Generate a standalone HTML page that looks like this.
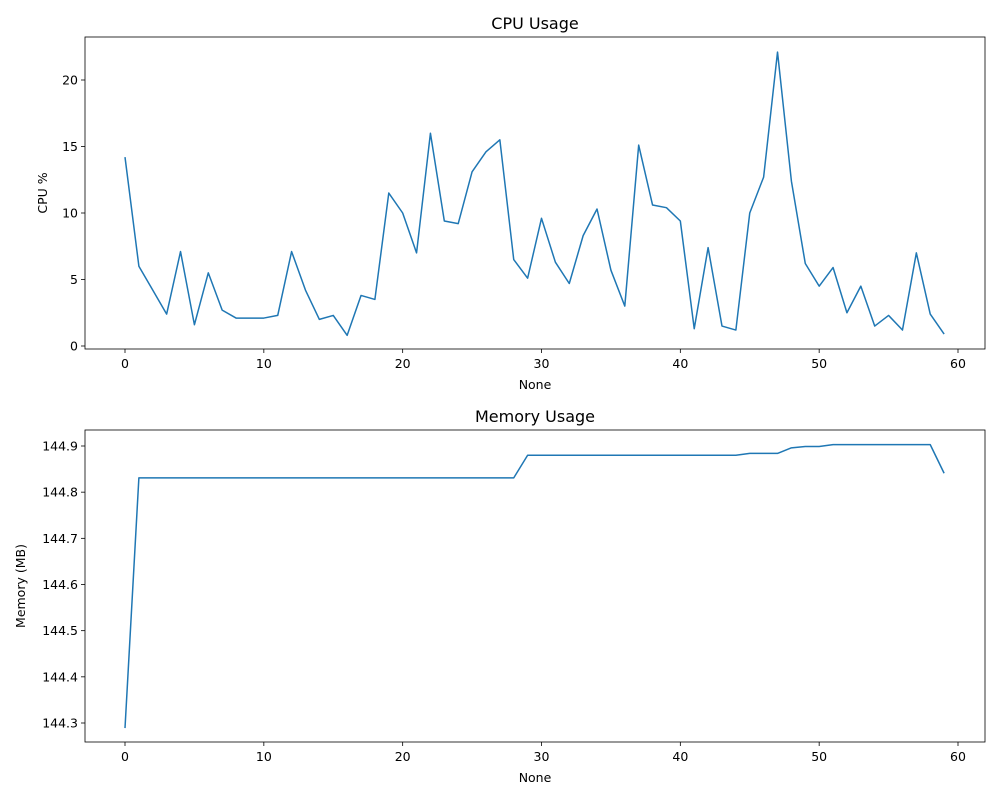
<!DOCTYPE html>
<html><head><meta charset="utf-8"><style>
body{margin:0;background:#fff;font-family:"Liberation Sans","DejaVu Sans",sans-serif}
svg text{font-family:"DejaVu Sans","Liberation Sans",sans-serif;fill:#000}
</style></head><body>
<svg id="c" width="1000" height="800"></svg>
<script>
const cpuValues=[14.2,6.0,4.2,2.4,7.1,1.6,5.5,2.7,2.1,2.1,2.1,2.3,7.1,4.2,2.0,2.3,0.8,3.8,3.5,11.5,10.0,7.0,16.0,9.4,9.2,13.1,14.6,15.5,6.5,5.1,9.6,6.3,4.7,8.3,10.3,5.7,3.0,15.1,10.6,10.4,9.4,1.3,7.4,1.5,1.2,10.0,12.7,22.1,12.4,6.2,4.5,5.9,2.5,4.5,1.5,2.3,1.2,7.0,2.4,0.9];
const memValues=[144.289,144.831,144.831,144.831,144.831,144.831,144.831,144.831,144.831,144.831,144.831,144.831,144.831,144.831,144.831,144.831,144.831,144.831,144.831,144.831,144.831,144.831,144.831,144.831,144.831,144.831,144.831,144.831,144.831,144.880,144.880,144.880,144.880,144.880,144.880,144.880,144.880,144.880,144.880,144.880,144.880,144.880,144.880,144.880,144.880,144.884,144.884,144.884,144.896,144.899,144.899,144.903,144.903,144.903,144.903,144.903,144.903,144.903,144.903,144.841];
const xTicks=[0,10,20,30,40,50,60];
const cpuTicks=[0,5,10,15,20];
const memTicks=[144.3,144.4,144.5,144.6,144.7,144.8,144.9];
const NS="http://www.w3.org/2000/svg";
const svg=document.getElementById('c');
function mk(t,a,p){const e=document.createElementNS(NS,t);for(const k in a)e.setAttribute(k,a[k]);(p||svg).appendChild(e);return e;}
function xs(v){return 125+(v-0)*(958-125)/60;}
function panel(name,title,ylabel,vals,yt,top,y0v,y0p,y1v,y1p,ylx){
  const g=mk('g',{});
  
  
  const ys=v=>y0p+(v-y0v)*(y1p-y0p)/(y1v-y0v);
  const bottom=top+312;
  const t=mk('text',{x:535,y:top-8,'font-size':16,'text-anchor':'middle'},g);t.textContent=title;
  
  xTicks.forEach(v=>{const x=xs(v);mk('line',{x1:x,x2:x,y1:bottom,y2:bottom+4,stroke:'#000','stroke-width':0.8},g);
    const l=mk('text',{x:x,y:bottom+19,'font-size':12.5,'text-anchor':'middle'},g);l.textContent=v;
    });
  yt.forEach(v=>{const y=ys(v);mk('line',{x1:81,x2:85,y1:y,y2:y,stroke:'#000','stroke-width':0.8},g);
    const l=mk('text',{x:78,y:y+4.5,'font-size':12.5,'text-anchor':'end'},g);l.textContent=(v%1? v.toFixed(1):v);
    });
  const xl=mk('text',{x:535,y:bottom+40,'font-size':12.5,'text-anchor':'middle'},g);xl.textContent='None';
  
  const yl=mk('text',{x:ylx,y:top+156,'font-size':12.5,'text-anchor':'middle',transform:`rotate(-90 ${ylx} ${top+156})`},g);yl.textContent=ylabel;
  
  const pts=vals.map((v,i)=>xs(i).toFixed(2)+','+ys(v).toFixed(2)).join(' ');
  const pl=mk('polyline',{points:pts,fill:'none',stroke:'#1f77b4','stroke-width':1.5,'stroke-linejoin':'round'},g);
  
  const r=mk('rect',{x:85,y:top,width:900,height:312,fill:'none',stroke:'#000','stroke-width':0.8},g);
  
}
panel('cpu','CPU Usage','CPU %',cpuValues,cpuTicks,37,0,346,20,80,47);
panel('memory','Memory Usage','Memory (MB)',memValues,memTicks,430,144.3,723,144.9,446,25);
</script>
</body></html>
